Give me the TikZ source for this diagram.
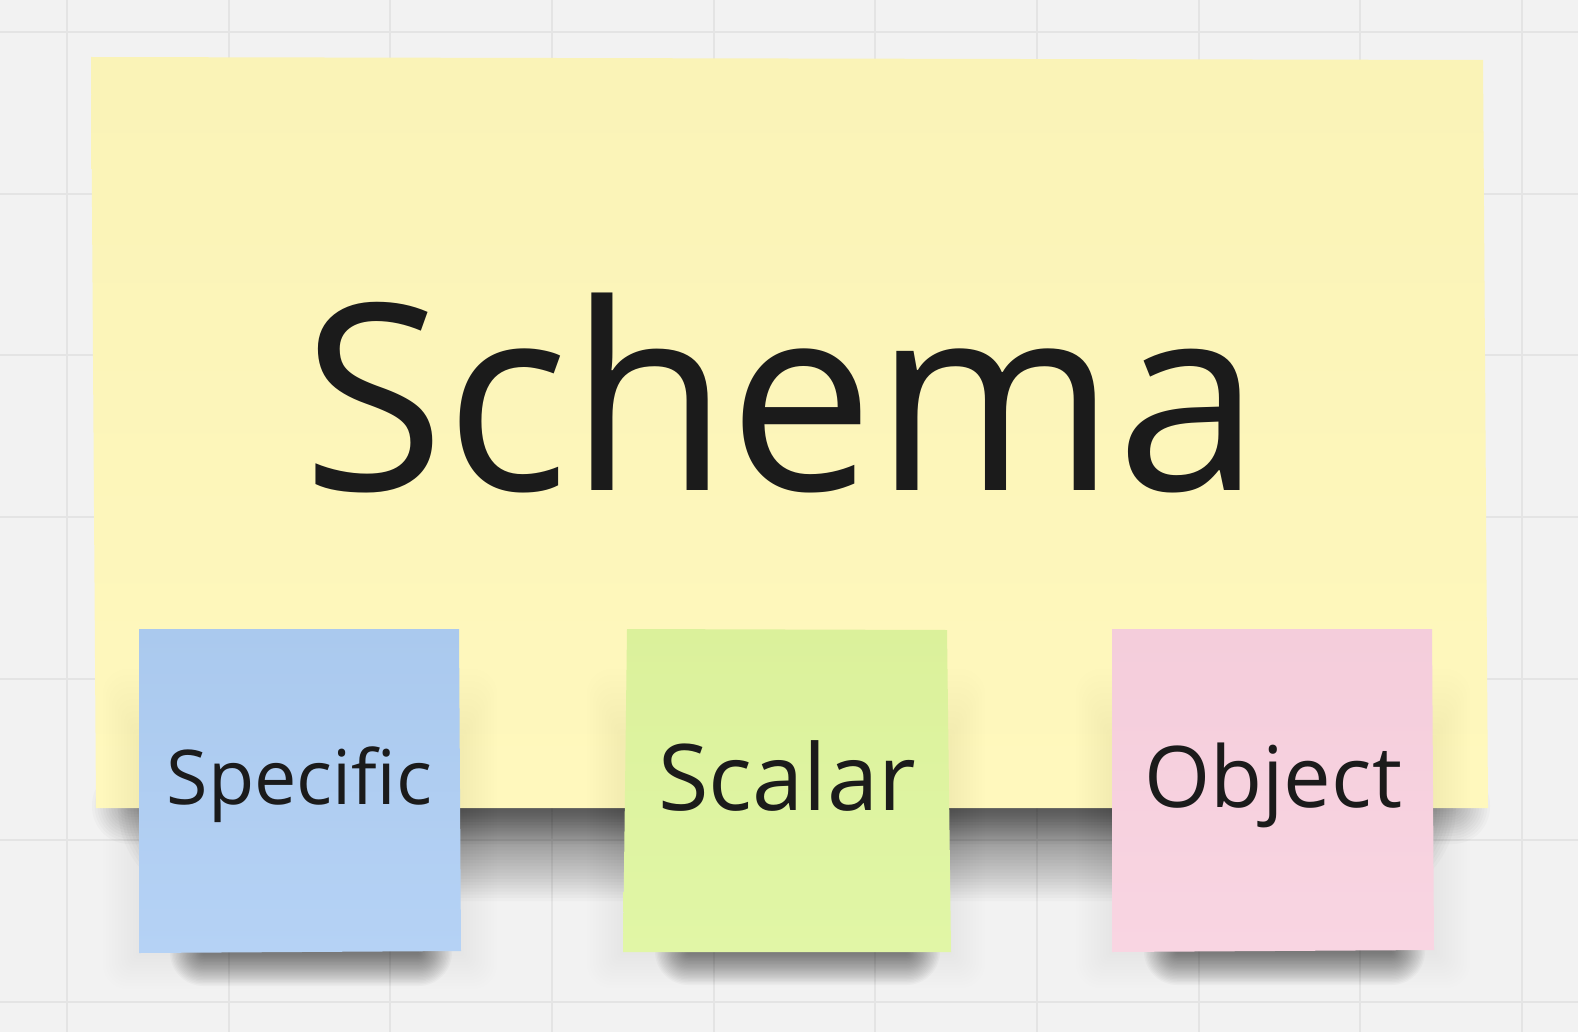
\documentclass[tikz,border=0pt]{standalone}
\usepackage{fontspec}
\setmainfont{Open Sans}
\definecolor{board}{HTML}{F2F2F2}
\definecolor{gridgray}{HTML}{E4E4E4}
\definecolor{inktext}{HTML}{1B1B1B}
\definecolor{yellowtop}{HTML}{FAF3B7}
\definecolor{yellowbot}{HTML}{FFF8BD}
\definecolor{bluetop}{HTML}{AAC9EE}
\definecolor{bluebot}{HTML}{B5D2F5}
\definecolor{greentop}{HTML}{DBF19B}
\definecolor{greenbot}{HTML}{E1F6A6}
\definecolor{pinktop}{HTML}{F4CDDB}
\definecolor{pinkbot}{HTML}{F9D5E2}
\tikzset{
  gridline/.style={draw=gridgray, line width=2pt},
  bigtext/.style={text=inktext, inner sep=0pt, anchor=base, font=\fontsize{260}{260}\selectfont},
  notetext/.style={text=inktext, inner sep=0pt, anchor=base, font=\fontsize{#1}{#1}\selectfont},
  shadowlayer/.style={fill=black, opacity=#1},
}
% blurred stadium: left end, right end, centre line y, outer half-height, layers, opacity per layer
\newcommand{\softband}[6]{%
  \foreach \i in {0,...,\numexpr#5-1\relax}{
    \pgfmathsetmacro{\hh}{#4*(1-\i/#5)}
    \fill[shadowlayer=#6, rounded corners={0.98*\hh}]
      ({#1+#4-\hh},{#3-\hh}) rectangle ({#2-#4+\hh},{#3+\hh});
  }
}
% faint ambient shade round a small note: left, top, right, bottom
\newcommand{\ambient}[4]{%
  \foreach \i in {1,...,12}{
    \fill[shadowlayer=0.005, rounded corners={2*\i}]
      ({#1-3*\i},{#2+40+6*(12-\i)}) rectangle ({#3+3*\i},{#4+3*\i});
  }
}
\begin{document}
\begin{tikzpicture}[x=1pt,y=-1pt]
\useasboundingbox (0,0) rectangle (1578,1032);
\fill[board] (0,0) rectangle (1578,1032);
% board grid
\foreach \k in {0,...,9}
  \draw[gridline] ({67+161.67*\k},0) -- ({67+161.67*\k},1032);
\foreach \k in {0,...,6}
  \draw[gridline] (0,{32+161.67*\k}) -- (1578,{32+161.67*\k});

% shadow under the large note: deep core and a shallow soft rim
\softband{118}{1456}{806}{95}{30}{0.02}
\softband{92}{1490}{806}{38}{14}{0.018}
% large yellow note
\shade[top color=yellowtop, bottom color=yellowbot]
  (91,57) -- (1483,60) -- (1488,808) -- (96,808) -- cycle;
\node[bigtext] (schema) at (782,490) {Schema};

% small note shadows
\ambient{139}{629}{461}{953}
\ambient{623}{629}{949}{952}
\ambient{1112}{629}{1434}{952}
\softband{170}{452}{952}{34}{24}{0.025}
\softband{655}{940}{951}{34}{24}{0.025}
\softband{1144}{1425}{951}{34}{24}{0.025}

% blue note
\shade[top color=bluetop, bottom color=bluebot]
  (139,629) -- (459,629) -- (461,951) -- (139,953) -- cycle;
\node[notetext=75.5] (specific) at (299.5,804) {Specific};

% green note
\shade[top color=greentop, bottom color=greenbot]
  (627,629) -- (947,630) -- (951,952) -- (623,952) -- cycle;
\node[notetext=92] (scalar) at (787,810) {Scalar};

% pink note
\shade[top color=pinktop, bottom color=pinkbot]
  (1112,629) -- (1432,629) -- (1434,950) -- (1112,952) -- cycle;
\node[notetext=85] (object) at (1273,807) {Object};
\end{tikzpicture}
\end{document}
